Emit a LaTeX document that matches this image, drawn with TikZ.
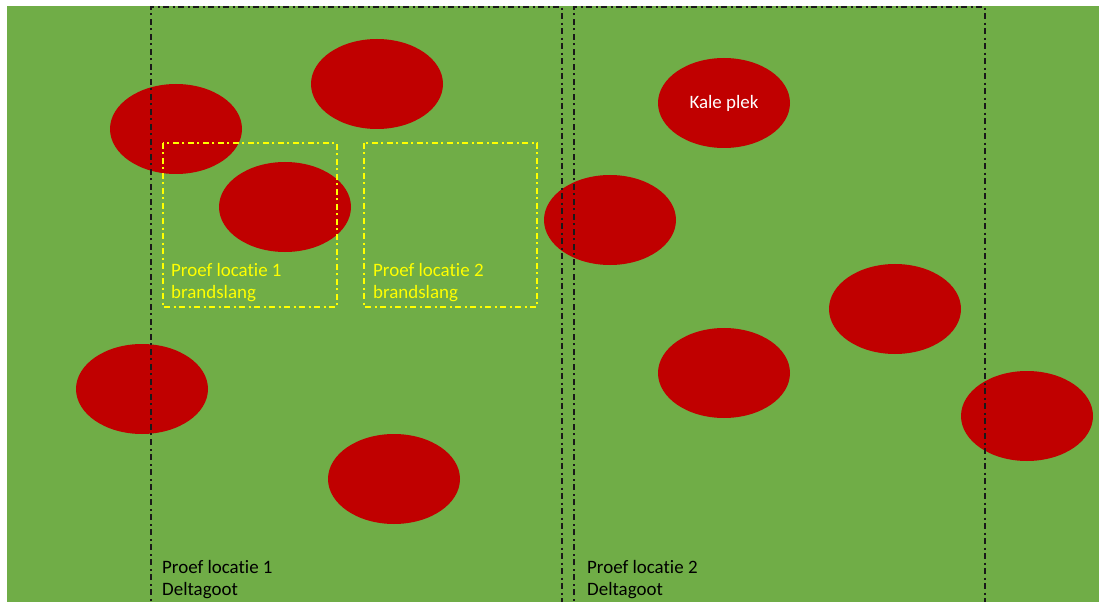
\documentclass[tikz,border=0pt]{standalone}
\usepackage{fontspec}
\setmainfont[Ligatures=NoCommon]{Carlito}
\definecolor{grass}{HTML}{70AD47}
\definecolor{bald}{HTML}{C00000}
\definecolor{hose}{HTML}{FFFF00}
\usetikzlibrary{shapes.geometric}
\tikzset{
  spot/.style={ellipse, fill=bald, minimum width=132bp, minimum height=90bp, inner sep=0pt},
  gutter/.style={draw=black!90, line width=1.6bp, dash pattern=on 6bp off 3.5bp on 2bp off 3.5bp},
  hosebox/.style={draw=hose, line width=1.4bp, dash pattern=on 6bp off 3.5bp on 2bp off 3.5bp},
  lbl/.style={font=\fontsize{19}{22}\selectfont, align=left, inner sep=0pt, anchor=north west}
}
\begin{document}
\begin{tikzpicture}[x=1bp,y=-1bp]
\useasboundingbox (0,0) rectangle (1100,602);
\fill[grass] (7,6) rectangle (1099,602);
% bald spots
\node[spot] (s1) at (176,129) {};
\node[spot] (s2) at (377,84) {};
\node[spot] (s3) at (285,207) {};
\node[spot] (s4) at (142,389) {};
\node[spot] (s5) at (394,479) {};
\node[spot, text=white, font=\fontsize{19}{22}\selectfont] (s6) at (724,103) {Kale plek};
\node[spot] (s7) at (610,220) {};
\node[spot] (s8) at (895,309) {};
\node[spot] (s9) at (724,373) {};
\node[spot] (s10) at (1027,416) {};
% deltagoot test strips
\begin{scope}
\clip (0,0) rectangle (1100,602);
\draw[gutter] (151,640) -- (151,7) -- (562,7) -- (562,640);
\draw[gutter] (574,640) -- (574,7) -- (985,7) -- (985,640);
\end{scope}
% brandslang boxes
\draw[hosebox] (163,143) rectangle (337,307);
\draw[hosebox] (364,143) rectangle (537,307);
% labels
\node[lbl, text=hose] (h1) at (171,263.5) {Proef locatie 1\\brandslang};
\node[lbl, text=hose] (h2) at (373,263.5) {Proef locatie 2\\brandslang};
\node[lbl, text=black] (d1) at (162,560) {Proef locatie 1\\Deltagoot};
\node[lbl, text=black] (d2) at (587,560) {Proef locatie 2\\Deltagoot};
\end{tikzpicture}
\end{document}
